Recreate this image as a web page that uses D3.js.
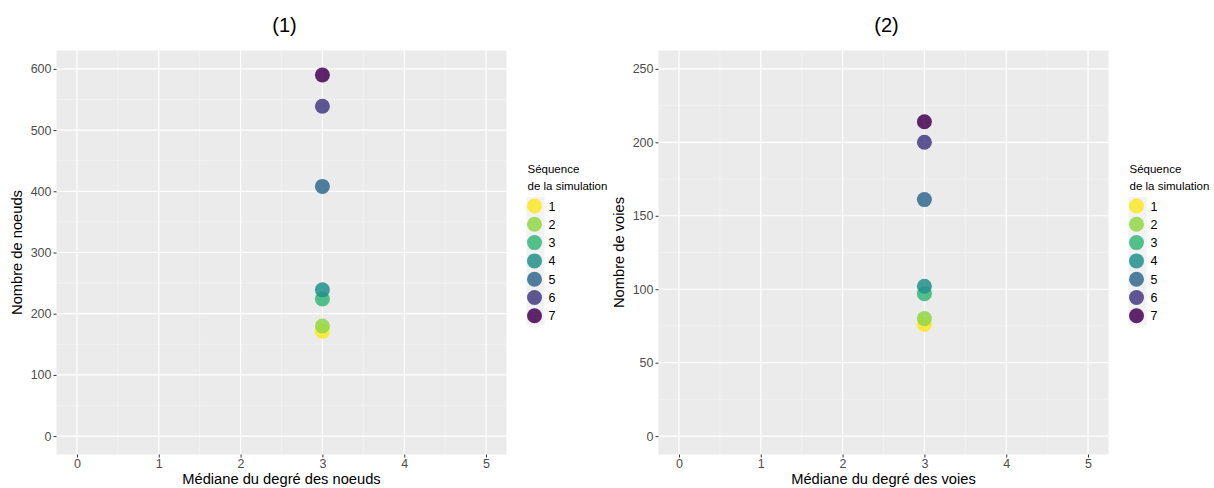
<!DOCTYPE html>
<html><head><meta charset="utf-8">
<script src="https://cdn.jsdelivr.net/npm/d3@7"></script>
<style>body{margin:0;background:#fff;font-family:"Liberation Sans",Arial,sans-serif;}</style>
</head><body><svg id="c" width="1214" height="488"></svg>
<script>
const sequences = ["1","2","3","4","5","6","7"];
const colors = ["#FDE725","#8FD744","#35B779","#21908C","#31688E","#443A83","#440154"];
const medianNodes = [3,3,3,3,3,3,3];
const countNodes = [171,180,224,239,408,539,590];
const medianWays = [3,3,3,3,3,3,3];
const countWays = [76,80,97,102,161,200,214];
const xTicks = [0,1,2,3,4,5];
const yTicks1 = [0,100,200,300,400,500,600];
const yTicks2 = [0,50,100,150,200,250];

const svg = d3.select("#c");
function panel(opts){
  const g = svg.append("g");
  const x = d3.scaleLinear().domain([-0.25,5.25]).range([opts.left, opts.left+450]);
  const y = d3.scaleLinear().domain(opts.ydom).range([454.5, 50.5]);
  g.append("rect").attr("x",opts.left).attr("y",50.5).attr("width",450).attr("height",404).attr("fill","#EBEBEB");
  const xm = d3.range(-0.5,5.6,1).filter(v=>v>-0.25&&v<5.25);
  g.selectAll(".xm").data(xm).enter().append("line")
    .attr("x1",d=>x(d)).attr("x2",d=>x(d)).attr("y1",50.5).attr("y2",454.5)
    .attr("stroke","#F5F5F5").attr("stroke-width",0.6);
  const ym = opts.yminor.filter(v=>v>opts.ydom[0]&&v<opts.ydom[1]);
  g.selectAll(".ym").data(ym).enter().append("line")
    .attr("y1",d=>y(d)).attr("y2",d=>y(d)).attr("x1",opts.left).attr("x2",opts.left+450)
    .attr("stroke","#F5F5F5").attr("stroke-width",0.6);
  g.selectAll(".xg").data(xTicks).enter().append("line")
    .attr("x1",d=>x(d)).attr("x2",d=>x(d)).attr("y1",50.5).attr("y2",454.5)
    .attr("stroke","#fff").attr("stroke-width",1.2);
  g.selectAll(".yg").data(opts.yticks).enter().append("line")
    .attr("y1",d=>y(d)).attr("y2",d=>y(d)).attr("x1",opts.left).attr("x2",opts.left+450)
    .attr("stroke","#fff").attr("stroke-width",1.2);
  const xa = g.append("g").attr("transform","translate(0,454.5)")
    .call(d3.axisBottom(x).tickValues(xTicks).tickSize(3).tickPadding(2).tickFormat(d3.format("d")));
  const ya = g.append("g").attr("transform",`translate(${opts.left},0)`)
    .call(d3.axisLeft(y).tickValues(opts.yticks).tickSize(3).tickPadding(2).tickFormat(d3.format("d")));
  [xa,ya].forEach(a=>{
    a.attr("font-size",null).attr("font-family",null);
    a.select(".domain").remove();
    a.selectAll(".tick line").attr("stroke","#333").attr("stroke-width",1);
    a.selectAll(".tick text").attr("fill","#4D4D4D").style("font-size","12.5px");
  });
  g.selectAll(".pt").data(opts.xs.map((v,i)=>({x:v,y:opts.ys[i],c:colors[i]}))).enter().append("circle")
    .attr("cx",d=>x(d.x)).attr("cy",d=>y(d.y)).attr("r",7.5).attr("fill",d=>d.c).attr("fill-opacity",0.85);
  const cx = opts.left+225;
  g.append("text").attr("x",cx+3).attr("y",32).attr("text-anchor","middle").style("font-size","20px").attr("fill","#000").text(opts.title);
  g.append("text").attr("x",cx).attr("y",484).attr("text-anchor","middle").style("font-size","14.7px").attr("fill","#000").text(opts.xlab);
  g.append("text").attr("transform",`translate(${opts.left-35},252.5) rotate(-90)`).attr("text-anchor","middle").style("font-size","14.7px").attr("fill","#000").text(opts.ylab);
  const lx = opts.left+470;
  g.append("text").attr("x",lx+1).attr("y",173).style("font-size","11.5px").text("Séquence");
  g.append("text").attr("x",lx+1).attr("y",190).style("font-size","11.5px").text("de la simulation");
  g.append("rect").attr("x",lx).attr("y",197).attr("width",18).attr("height",128).attr("fill","#F2F2F2");
  sequences.forEach((s,i)=>{
    const yy = 206 + i*18.3;
    g.append("circle").attr("cx",lx+8).attr("cy",yy).attr("r",7.5).attr("fill",colors[i]).attr("fill-opacity",0.85);
    g.append("text").attr("x",lx+22).attr("y",yy+4.5).style("font-size","12.5px").attr("fill","#000").text(s);
  });
}
panel({left:56.5, ydom:[-30,630], yticks:yTicks1, yminor:d3.range(-50,700,100), xs:medianNodes, ys:countNodes,
  title:"(1)", xlab:"Médiane du degré des noeuds", ylab:"Nombre de noeuds"});
panel({left:658.5, ydom:[-12.5,262.5], yticks:yTicks2, yminor:d3.range(-25,300,50), xs:medianWays, ys:countWays,
  title:"(2)", xlab:"Médiane du degré des voies", ylab:"Nombre de voies"});
</script></body></html>
